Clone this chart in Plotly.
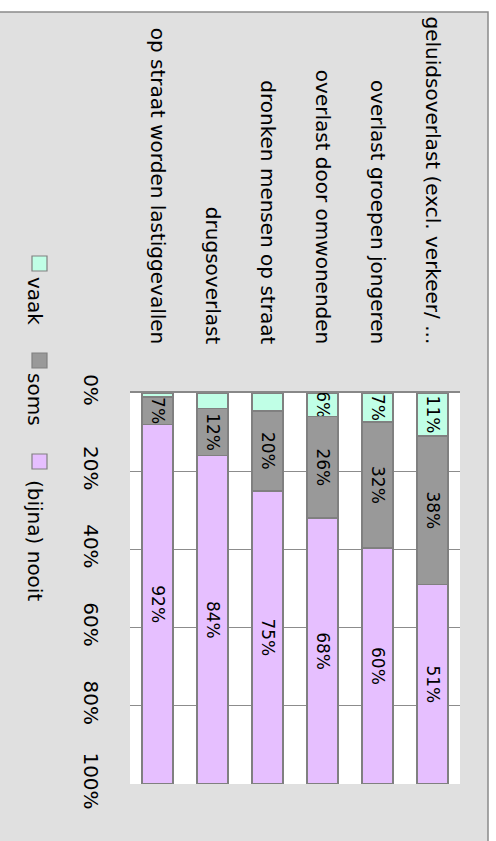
import plotly.graph_objects as go

categories = [
    "op straat worden lastiggevallen",
    "drugsoverlast",
    "dronken mensen op straat",
    "overlast door omwonenden",
    "overlast groepen jongeren",
    "geluidsoverlast (excl. verkeer/ ...",
]
vaak = [1, 4, 4.6, 6, 7.4, 11]
soms = [7, 12, 20.4, 26, 32.2, 38]
nooit = [92, 84, 75, 68, 60.4, 51]
series_names = ["vaak", "soms", "(bijna) nooit"]
tick_values = [0, 20, 40, 60, 80, 100]
tick_labels = ["0%", "20%", "40%", "60%", "80%", "100%"]

colors = ["#C0FFE6", "#999999", "#E6BFFF"]
edge = "#808080"
FONT = "DejaVu Sans"

W, H = 496, 841
L, R, T, B = 130, 460, 393, 784  # plot area in pixels


def px(x):
    return (x - L) / (R - L)


def py(y):
    return (B - y) / (B - T)


def labels(vals, minshow):
    return [f"{v:.0f}%" if v >= minshow else "" for v in vals]


fig = go.Figure()
for name, vals, col, mins in zip(series_names, [vaak, soms, nooit], colors, [5.5, 0, 0]):
    fig.add_trace(go.Bar(
        name=name, x=categories, y=vals,
        marker=dict(color=col, line=dict(color=edge, width=1.5)),
        text=labels(vals, mins), textposition="inside", insidetextanchor="middle",
        textangle=90, textfont=dict(family=FONT, size=17, color="#000000"),
        hoverinfo="skip", showlegend=False,
    ))

shapes = [
    dict(type="rect", xref="paper", yref="paper", layer="below",
         x0=px(-5), x1=px(488), y0=py(850), y1=py(12),
         fillcolor="#E0E0E0", line=dict(color="#8A8A8A", width=1.5)),
    dict(type="rect", xref="paper", yref="paper", layer="below",
         x0=0, x1=1, y0=0, y1=1, fillcolor="#FFFFFF", line=dict(width=0)),
]
annotations = []
legend_pos = [(256, 301), (353, 400), (454, 541)]  # square top, text center (px)
for name, col, (sq, tc) in zip(series_names, colors, legend_pos):
    shapes.append(dict(type="rect", xref="paper", yref="paper",
                       x0=px(32), x1=px(47), y0=py(sq + 15), y1=py(sq),
                       fillcolor=col, line=dict(color=edge, width=1.2)))
    annotations.append(dict(text=name, xref="paper", yref="paper",
                            x=px(35), y=py(tc), showarrow=False, textangle=90,
                            xanchor="center", yanchor="middle",
                            font=dict(family=FONT, size=20, color="#000000")))

fig.update_layout(
    width=W, height=H, barmode="stack", bargap=0.44,
    margin=dict(l=L, r=W - R, t=T, b=H - B, pad=0),
    paper_bgcolor="#FFFFFF", plot_bgcolor="#FFFFFF",
    font=dict(family=FONT, size=20, color="#000000"),
    uniformtext=dict(mode="show", minsize=17),
    shapes=shapes, annotations=annotations,
    xaxis=dict(side="top", type="category", categoryorder="array",
               categoryarray=categories, tickangle=90, showgrid=False,
               showline=True, linecolor="#888888", linewidth=1.5,
               ticks="", ticklabelstandoff=40,
               tickfont=dict(family=FONT, size=20, color="#000000")),
    yaxis=dict(range=[100, 0], tickvals=tick_values, ticktext=tick_labels,
               tickangle=90, showgrid=True, gridcolor="#8C8C8C", gridwidth=1.3,
               zeroline=False, showline=False, ticks="", ticklabelstandoff=25,
               tickfont=dict(family=FONT, size=20, color="#000000")),
)

fig.write_html("out.html", config={"displayModeBar": False},
               post_script="document.body.style.margin='0';document.body.style.overflow='hidden';")
